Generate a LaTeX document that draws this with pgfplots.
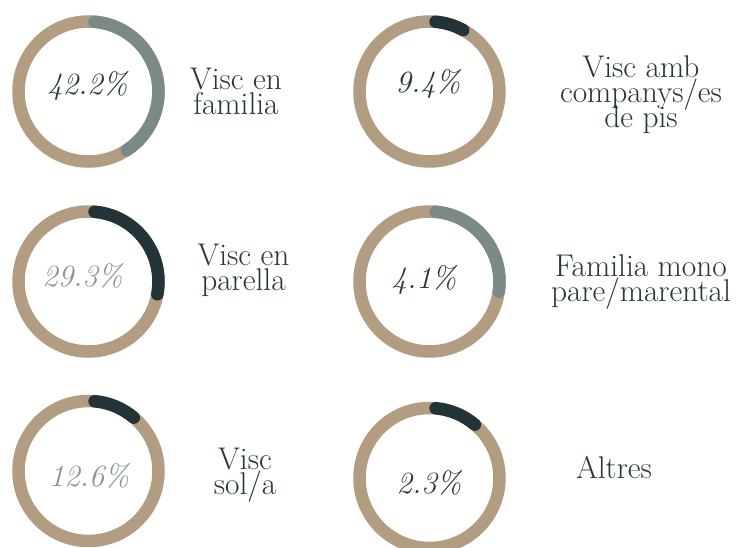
\documentclass[border=0pt]{standalone}
\usepackage{pgfplots}
\usepackage{pgfplotstable}
\pgfplotsset{compat=1.18}
\definecolor{ringtan}{RGB}{178,157,131}
\definecolor{darkarc}{RGB}{35,52,56}
\definecolor{greyarc}{RGB}{122,138,137}
\definecolor{greytxt}{RGB}{135,148,148}
\definecolor{labeltxt}{RGB}{38,55,58}

% ring centres (picture units, y up) and the share that each arc shows
\pgfplotstableread{
cx    cy     arc
88.5  456.5  42.2
429.5 266.5  28.7
}\greytab
\pgfplotstableread{
cx    cy     arc
429.5 456.5  9.4
88.5  266.5  29.3
88.5  77.0   12.6
429.5 70.0   12.6
}\darktab
\pgfplotstableread{
cx    cy
88.5  456.5
429.5 456.5
88.5  266.5
429.5 266.5
88.5  77.0
429.5 70.0
}\ringtab

\pgfdeclareplotmark{donutarc}{%
  \pgfmathsetmacro\donutend{85-(\arcval*3.6-10)}%
  \pgfpathmoveto{\pgfpointpolar{85}{70bp}}%
  \pgfpatharc{85}{\donutend}{70bp}%
  \pgfusepathqstroke}

\begin{document}
\begin{tikzpicture}
\begin{axis}[
  x=1bp, y=1bp,
  xmin=0, xmax=739, ymin=0, ymax=548,
  hide axis, clip=false,
  anchor=south west, at={(0,0)},
]
\addplot[only marks, mark=o, color=ringtan, mark size=70bp,
  mark options={line width=12.5bp}] table[x=cx, y=cy] {\ringtab};
\addplot[only marks, mark=donutarc, color=greyarc,
  mark options={line width=12.5bp, line cap=round},
  visualization depends on={\thisrow{arc} \as \arcval}] table[x=cx, y=cy] {\greytab};
\addplot[only marks, mark=donutarc, color=darkarc,
  mark options={line width=12.5bp, line cap=round},
  visualization depends on={\thisrow{arc} \as \arcval}] table[x=cx, y=cy] {\darktab};

% percentages
\begin{scope}[every node/.style={anchor=base, inner sep=0pt, font=\fontsize{31}{31}\selectfont\itshape}]
\node[text=labeltxt] at (axis cs:87.5,453) {42.2\%};
\node[text=labeltxt] at (axis cs:428,455) {9.4\%};
\node[text=greytxt]  at (axis cs:82.5,262) {29.3\%};
\node[text=labeltxt] at (axis cs:424,260) {4.1\%};
\node[text=greytxt]  at (axis cs:89,61.5) {12.6\%};
\node[text=labeltxt] at (axis cs:429,55) {2.3\%};
\end{scope}

% labels
\begin{scope}[every node/.style={anchor=base, inner sep=0pt, text=labeltxt, font=\fontsize{31.5}{31.5}\selectfont}]
\node at (axis cs:236,458.2) {Visc en};
\node at (axis cs:236,433.2) {familia};
\node at (axis cs:641,470.3) {Visc amb};
\node at (axis cs:641,445.3) {companys/es};
\node at (axis cs:641,420.3) {de pis};
\node at (axis cs:243.5,282.2) {Visc en};
\node at (axis cs:243.5,257.2) {parella};
\node at (axis cs:641,272) {Familia mono};
\node at (axis cs:641,247) {pare/marental};
\node at (axis cs:245,78.2) {Visc};
\node at (axis cs:245,53.2) {sol/a};
\node at (axis cs:614,70) {Altres};
\end{scope}
\end{axis}
\pgfresetboundingbox
\path (0,0) rectangle (739bp,548bp);
\end{tikzpicture}
\end{document}
